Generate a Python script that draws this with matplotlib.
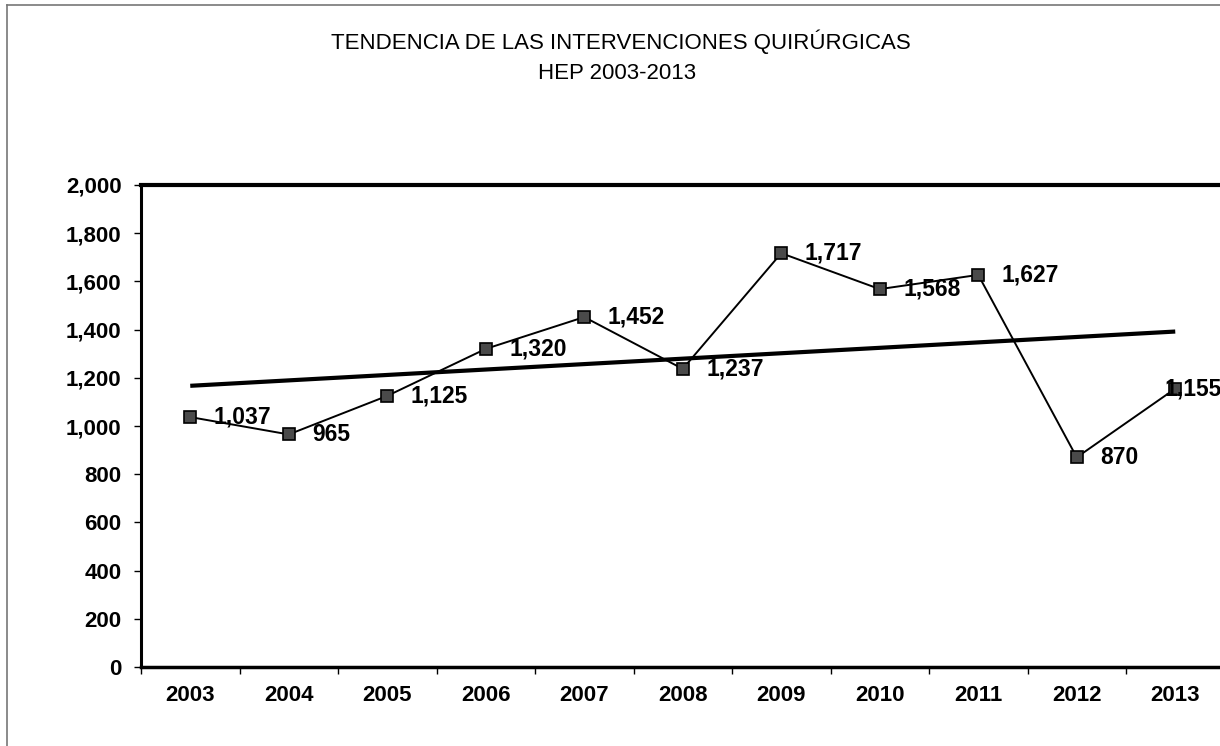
import numpy as np
import matplotlib.pyplot as plt
from matplotlib.ticker import FuncFormatter

# Datos
anios = ['2003', '2004', '2005', '2006', '2007', '2008', '2009', '2010', '2011', '2012', '2013']
intervenciones = [1037, 965, 1125, 1320, 1452, 1237, 1717, 1568, 1627, 870, 1155]
y_ticks = [0, 200, 400, 600, 800, 1000, 1200, 1400, 1600, 1800, 2000]

plt.rcParams['font.family'] = ['Liberation Sans', 'DejaVu Sans']

W, H = 1220, 746
fig = plt.figure(figsize=(W / 100, H / 100), dpi=100)
ax = fig.add_axes([141 / W, (H - 667) / H, (1224.5 - 141) / W, 482 / H])

x = np.arange(len(anios))

# Línea de tendencia (regresión lineal)
a, b = np.polyfit(x, intervenciones, 1)
ax.plot(x, a * x + b, color='black', lw=3, solid_capstyle='butt', zorder=2)

# Serie
ax.plot(x, intervenciones, color='black', lw=1.4, marker='s', markersize=8.5,
        markerfacecolor='#4a4a4a', markeredgecolor='black', markeredgewidth=1.2, zorder=3)

# Etiquetas de datos
for i, v in enumerate(intervenciones):
    dx = 17 if i < len(intervenciones) - 1 else -8
    ax.annotate(f'{v:,}', (x[i], v), xytext=(dx, 0), textcoords='offset points',
                ha='left', va='center', fontsize=16.5, fontweight='bold', zorder=4,
                annotation_clip=False)

ax.set_xlim(-0.5, len(anios) - 0.5)
ax.set_ylim(0, 2000)
ax.set_yticks(y_ticks)
ax.yaxis.set_major_formatter(FuncFormatter(lambda v, p: f'{int(v):,}'))

ax.set_xticks(x)
ax.set_xticklabels(anios)
ax.set_xticks(np.arange(-0.5, len(anios), 1), minor=True)
ax.tick_params(axis='x', which='major', length=0, pad=13)
ax.tick_params(axis='x', which='minor', length=5, width=1, direction='out')
ax.tick_params(axis='y', length=5, width=1, direction='out', pad=9)
for lab in ax.get_xticklabels() + ax.get_yticklabels():
    lab.set_fontsize(16)
    lab.set_fontweight('bold')

ax.spines['right'].set_visible(False)
ax.spines['left'].set_linewidth(2.2)
ax.spines['bottom'].set_linewidth(2.5)
ax.spines['top'].set_linewidth(3)

# Títulos
fig.text(621 / W, 1 - 41.5 / H, 'TENDENCIA DE LAS INTERVENCIONES QUIRÚRGICAS',
         ha='center', va='center', fontsize=16)
fig.text(617 / W, 1 - 73.5 / H, 'HEP 2003-2013', ha='center', va='center', fontsize=16)

# Marco exterior
fig.add_artist(plt.Line2D([7 / W, 7 / W], [0, 1 - 5 / H], transform=fig.transFigure,
                          color='#777777', lw=1.2))
fig.add_artist(plt.Line2D([7 / W, 1], [1 - 5 / H, 1 - 5 / H], transform=fig.transFigure,
                          color='#777777', lw=1.2))

fig.savefig('out.png', dpi=100)
